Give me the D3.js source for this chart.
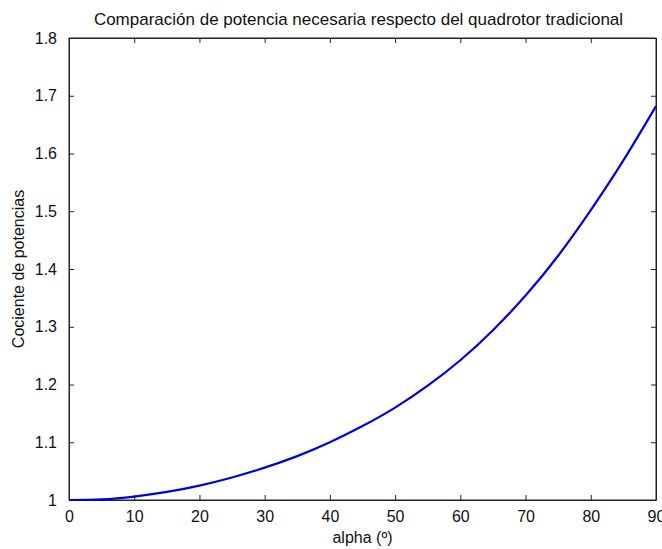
<!DOCTYPE html>
<html>
<head>
<meta charset="utf-8">
<script src="https://cdn.jsdelivr.net/npm/d3@7"></script>
<style>
  body { margin: 0; background: #fff; }
  text { font-family: "Liberation Sans", Arial, sans-serif; fill: #111; }
</style>
</head>
<body>
<div id="chart"></div>
<script>
// alpha in degrees and the power ratio
var alphaDeg = [0, 5, 10, 15, 20, 25, 30, 35, 40, 45, 50, 55, 60, 65, 70, 75, 80, 85, 90];
var ratio = [1.000, 1.001, 1.006, 1.014, 1.025, 1.039, 1.056, 1.076, 1.100, 1.128, 1.160, 1.198, 1.242, 1.294, 1.354, 1.423, 1.502, 1.588, 1.682];
var xTicks = [0, 10, 20, 30, 40, 50, 60, 70, 80, 90];
var yTicks = [1, 1.1, 1.2, 1.3, 1.4, 1.5, 1.6, 1.7, 1.8];

function drawChart() {
  var margin = { top: 38, right: 6, bottom: 49, left: 69 };
  var width = 662 - margin.left - margin.right;
  var height = 549 - margin.top - margin.bottom;

  var svg = d3.select("#chart")
    .append("svg")
    .attr("width", 662)
    .attr("height", 549)
    .append("g")
    .attr("transform", "translate(" + margin.left + "," + margin.top + ")");

  var xScale = d3.scaleLinear().domain([0, 90]).range([0, width]);
  var yScale = d3.scaleLinear().domain([1, 1.8]).range([height, 0]);

  var data = alphaDeg.map((a, i) => ({ a: a, r: ratio[i] }));

  // ticks inward, MATLAB style on all four sides
  var fmt = d => d3.format("")(Math.round(d * 10) / 10);

  svg.append("g")
    .attr("transform", "translate(0," + height + ")")
    .call(d3.axisBottom(xScale).tickValues(xTicks).tickSizeInner(-5).tickSizeOuter(0).tickPadding(11))
    .call(g => g.selectAll("text").attr("font-size", "16px").attr("fill", "#111"));

  svg.append("g")
    .call(d3.axisTop(xScale).tickValues(xTicks).tickSizeInner(-5).tickSizeOuter(0).tickFormat(""));

  svg.append("g")
    .call(d3.axisLeft(yScale).tickValues(yTicks).tickFormat(fmt).tickSizeInner(-5).tickSizeOuter(0).tickPadding(12))
    .call(g => g.selectAll("text").attr("font-size", "16px").attr("fill", "#111"));

  svg.append("g")
    .attr("transform", "translate(" + width + ",0)")
    .call(d3.axisRight(yScale).tickValues(yTicks).tickSizeInner(-5).tickSizeOuter(0).tickFormat(""));

  svg.selectAll(".domain").attr("stroke", "#222");
  svg.selectAll(".tick line").attr("stroke", "#222");

  svg.append("rect")
    .attr("width", width)
    .attr("height", height)
    .attr("fill", "none")
    .attr("stroke", "#222")
    .attr("stroke-width", 1);

  var line = d3.line()
    .x(d => xScale(d.a))
    .y(d => yScale(d.r))
    .curve(d3.curveNatural);

  svg.append("path")
    .datum(data)
    .attr("d", line)
    .attr("fill", "none")
    .attr("stroke", "#0000e0")
    .attr("stroke-width", 2.2);

  svg.append("text")
    .attr("x", width / 2 - 4)
    .attr("y", -13)
    .attr("text-anchor", "middle")
    .attr("font-size", "17px")
    .text("Comparación de potencia necesaria respecto del quadrotor tradicional");

  svg.append("text")
    .attr("x", width / 2)
    .attr("y", height + 43)
    .attr("text-anchor", "middle")
    .attr("font-size", "16px")
    .text("alpha (º)");

  svg.append("text")
    .attr("transform", "translate(-45," + (height / 2) + ") rotate(-90)")
    .attr("text-anchor", "middle")
    .attr("font-size", "16px")
    .text("Cociente de potencias");
}

document.addEventListener('DOMContentLoaded', function() {
  drawChart();
});
</script>
</body>
</html>
